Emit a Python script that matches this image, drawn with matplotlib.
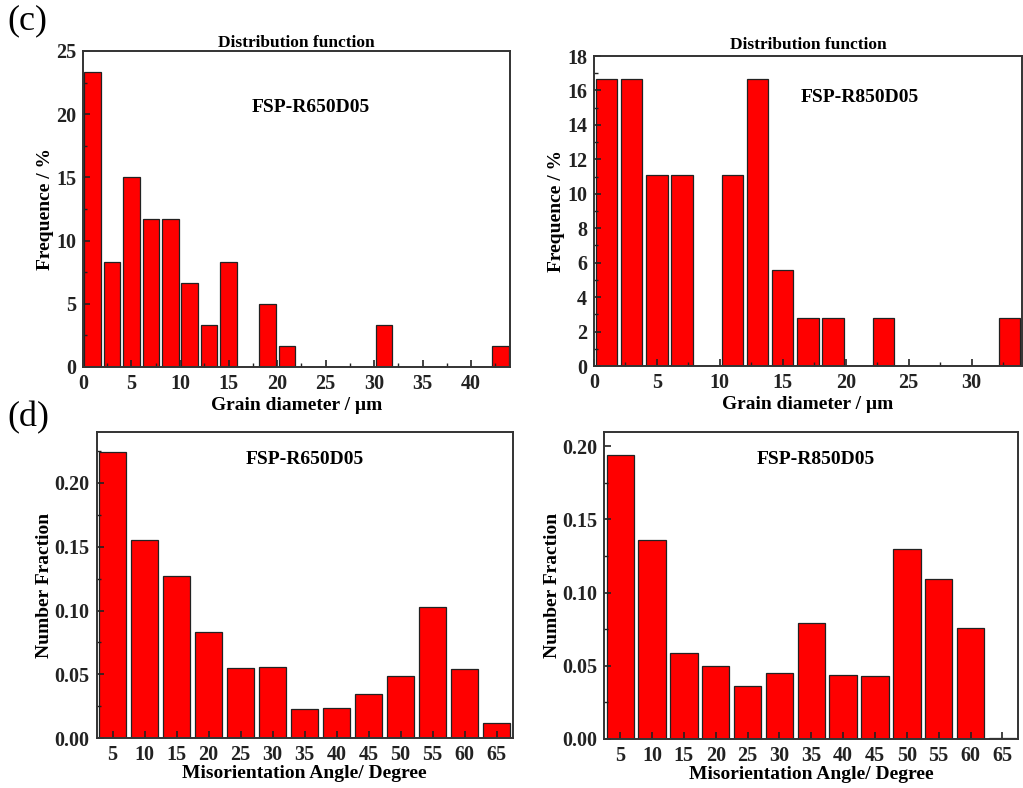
import numpy as np
import matplotlib
matplotlib.use("Agg")
import matplotlib.pyplot as plt
from matplotlib.ticker import MultipleLocator, AutoMinorLocator

# ---------------------------------------------------------------
# Data: grain size distributions (2 um bins, value = % of grains)
# ---------------------------------------------------------------
grain_bins_650 = [1, 3, 5, 7, 9, 11, 13, 15, 17, 19, 21, 23, 25, 27, 29,
                  31, 33, 35, 37, 39, 41, 43]
grain_freq_650 = [23.33, 8.33, 15.0, 11.67, 11.67, 6.67, 3.33, 8.33, 0.0, 5.0,
                  1.67, 0, 0, 0, 0, 3.33, 0, 0, 0, 0, 0, 1.67]

grain_bins_850 = [1, 3, 5, 7, 9, 11, 13, 15, 17, 19, 21, 23, 25, 27, 29, 31, 33]
grain_freq_850 = [16.67, 16.67, 11.11, 11.11, 0.0, 11.11, 16.67, 5.56, 2.78,
                  2.78, 0, 2.78, 0, 0, 0, 0, 2.78]

# misorientation angle distributions (5 degree bins)
angles = [5, 10, 15, 20, 25, 30, 35, 40, 45, 50, 55, 60, 65]
mis_frac_650 = [0.224, 0.155, 0.127, 0.083, 0.055, 0.056, 0.023, 0.024,
                0.035, 0.049, 0.103, 0.054, 0.012]
mis_frac_850 = [0.194, 0.136, 0.059, 0.050, 0.036, 0.045, 0.079, 0.044,
                0.043, 0.130, 0.109, 0.076, 0.001]

# ---------------------------------------------------------------
# Style
# ---------------------------------------------------------------
plt.rcParams['font.family'] = ['Liberation Serif', 'DejaVu Serif']
plt.rcParams['font.weight'] = 'bold'
plt.rcParams['axes.labelweight'] = 'bold'
plt.rcParams['axes.linewidth'] = 1.4
plt.rcParams['axes.edgecolor'] = '#333333'

BAR_COLOR = '#ff0000'
TICK_FS = 14.5
LABEL_FS = 14


def style_axes(ax):
    ax.tick_params(which='both', direction='in', top=False, right=False,
                   labelsize=TICK_FS, colors='#222222')
    ax.tick_params(which='major', length=5, width=1.2, pad=5)
    ax.tick_params(which='minor', length=3, width=1.0)
    for lab in ax.get_xticklabels() + ax.get_yticklabels():
        lab.set_fontweight('bold')


fig = plt.figure(figsize=(10.23, 7.88), dpi=100)

# ---------------- (c) left: FSP-R650D05 grain size ----------------
ax1 = fig.add_axes([0.0811, 0.5343, 0.4174, 0.401])
ax1.bar(grain_bins_650, grain_freq_650, width=1.7, color=BAR_COLOR,
        edgecolor='#222222', linewidth=0.9)
ax1.set_xlim(0, 44)
ax1.set_ylim(0, 25)
ax1.xaxis.set_major_locator(MultipleLocator(5))
ax1.xaxis.set_minor_locator(AutoMinorLocator(2))
ax1.yaxis.set_major_locator(MultipleLocator(5))
ax1.yaxis.set_minor_locator(AutoMinorLocator(2))
ax1.set_xlabel('Grain diameter / µm', fontsize=LABEL_FS, labelpad=2)
ax1.set_ylabel('Frequence / %', fontsize=LABEL_FS, labelpad=1)
ax1.set_title('Distribution function', fontsize=12.5, fontweight='bold', pad=3)
ax1.text(0.534, 0.82, 'FSP-R650D05', transform=ax1.transAxes,
         ha='center', va='center', fontsize=14, fontweight='bold')
style_axes(ax1)

# ---------------- (c) right: FSP-R850D05 grain size ----------------
ax2 = fig.add_axes([0.5806, 0.5355, 0.4184, 0.3934])
ax2.bar(grain_bins_850, grain_freq_850, width=1.7, color=BAR_COLOR,
        edgecolor='#222222', linewidth=0.9)
ax2.set_xlim(0, 34)
ax2.set_ylim(0, 18)
ax2.xaxis.set_major_locator(MultipleLocator(5))
ax2.xaxis.set_minor_locator(AutoMinorLocator(2))
ax2.yaxis.set_major_locator(MultipleLocator(2))
ax2.yaxis.set_minor_locator(AutoMinorLocator(2))
ax2.set_xlabel('Grain diameter / µm', fontsize=LABEL_FS, labelpad=2)
ax2.set_ylabel('Frequence / %', fontsize=LABEL_FS, labelpad=1)
ax2.set_title('Distribution function', fontsize=12.5, fontweight='bold', pad=5)
ax2.text(0.62, 0.865, 'FSP-R850D05', transform=ax2.transAxes,
         ha='center', va='center', fontsize=14, fontweight='bold')
style_axes(ax2)

# ---------------- (d) left: misorientation FSP-R650D05 ----------------
ax3 = fig.add_axes([0.0945, 0.0631, 0.4066, 0.389])
ax3.bar(angles, mis_frac_650, width=4.3, color=BAR_COLOR,
        edgecolor='#222222', linewidth=0.9)
ax3.set_xlim(2.5, 67.5)
ax3.set_ylim(0, 0.24)
ax3.set_xticks(angles)
ax3.yaxis.set_major_locator(MultipleLocator(0.05))
ax3.yaxis.set_minor_locator(AutoMinorLocator(2))
ax3.yaxis.set_major_formatter(matplotlib.ticker.FormatStrFormatter('%.2f'))
ax3.set_xlabel('Misorientation Angle/ Degree', fontsize=LABEL_FS, labelpad=0)
ax3.set_ylabel('Number Fraction', fontsize=LABEL_FS, labelpad=1)
ax3.text(0.50, 0.908, 'FSP-R650D05', transform=ax3.transAxes,
         ha='center', va='center', fontsize=14, fontweight='bold')
style_axes(ax3)

# ---------------- (d) right: misorientation FSP-R850D05 ----------------
ax4 = fig.add_axes([0.5907, 0.0622, 0.4047, 0.39])
ax4.bar(angles, mis_frac_850, width=4.3, color=BAR_COLOR,
        edgecolor='#222222', linewidth=0.9)
ax4.set_xlim(2.5, 67.5)
ax4.set_ylim(0, 0.21)
ax4.set_xticks(angles)
ax4.yaxis.set_major_locator(MultipleLocator(0.05))
ax4.yaxis.set_minor_locator(AutoMinorLocator(2))
ax4.yaxis.set_major_formatter(matplotlib.ticker.FormatStrFormatter('%.2f'))
ax4.set_xlabel('Misorientation Angle/ Degree', fontsize=LABEL_FS, labelpad=0)
ax4.set_ylabel('Number Fraction', fontsize=LABEL_FS, labelpad=1)
ax4.text(0.51, 0.909, 'FSP-R850D05', transform=ax4.transAxes,
         ha='center', va='center', fontsize=14, fontweight='bold')
style_axes(ax4)

# panel letters
fig.text(0.007, 0.974, '(c)', fontsize=26, fontweight='normal', va='center')
fig.text(0.007, 0.4695, '(d)', fontsize=26, fontweight='normal', va='center')

fig.savefig('out.png', dpi=100)
